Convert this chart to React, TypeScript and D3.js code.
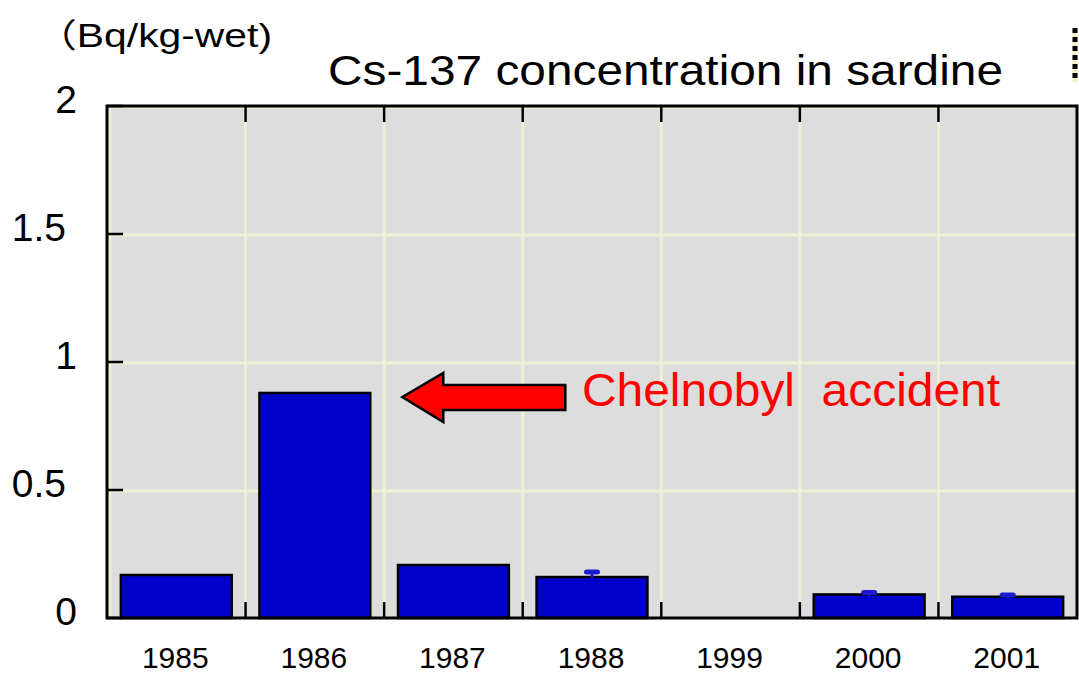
import React, { useEffect, useRef } from "react";
import * as d3 from "d3";

const years = ["1985", "1986", "1987", "1988", "1999", "2000", "2001"];
const values = [0.168, 0.879, 0.207, 0.16, 0, 0.092, 0.083];
const errTops = [null, null, null, 0.18, null, 0.1, 0.09];
const yTicks = [0, 0.5, 1, 1.5, 2];

const W = 1079;
const H = 673;
const margin = { left: 107, top: 106, right: 2, bottom: 55 };

export default function App() {
  const ref = useRef<SVGSVGElement>(null);

  useEffect(() => {
    const svg = d3.select(ref.current);
    svg.selectAll("*").remove();

    const x = d3.scaleBand()
      .domain(years)
      .range([margin.left, W - margin.right])
      .paddingInner(0.2)
      .paddingOuter(0.1);
    const y = d3.scaleLinear()
      .domain([0, 2])
      .range([H - margin.bottom, margin.top]);

    const x0 = margin.left, x1 = W - margin.right;
    const y0 = y(0), y1 = y(2);
    const step = x.step();
    const font = "'Liberation Sans', Arial, 'Noto Sans CJK JP', sans-serif";

    // plot background
    svg.append("rect")
      .attr("x", x0).attr("y", y1)
      .attr("width", x1 - x0).attr("height", y0 - y1)
      .attr("fill", "#dcdddc");

    // grid
    const grid = svg.append("g").attr("stroke", "#efefd6").attr("stroke-width", 3);
    yTicks.filter(d => d > 0).forEach(d => {
      grid.append("line")
        .attr("x1", x0 + 2).attr("x2", x1).attr("y1", y(d) + 1).attr("y2", y(d) + 1);
    });
    d3.range(0, years.length).forEach(i => {
      const gx = x0 + i * step + (i === 0 ? 3 : 0);
      grid.append("line")
        .attr("x1", gx).attr("x2", gx).attr("y1", y1).attr("y2", y0);
    });

    // bars
    svg.append("g")
      .selectAll("rect")
      .data(years.map((yr, i) => ({ yr, v: values[i] })).filter(d => d.v > 0))
      .join("rect")
      .attr("x", d => x(d.yr)!)
      .attr("y", d => y(d.v))
      .attr("width", x.bandwidth())
      .attr("height", d => y0 - y(d.v))
      .attr("fill", "#0000cc")
      .attr("stroke", "#000")
      .attr("stroke-width", 2.5);

    // error bars
    const eb = svg.append("g").attr("stroke", "#1a1ad0").attr("stroke-linecap", "round");
    errTops.forEach((e, i) => {
      if (e == null) return;
      const cx = x(years[i])! + x.bandwidth() / 2;
      eb.append("line")
        .attr("x1", cx).attr("x2", cx).attr("y1", y(e)).attr("y2", y(values[i]))
        .attr("stroke-width", 3);
      eb.append("line")
        .attr("x1", cx - 5.5).attr("x2", cx + 5.5).attr("y1", y(e)).attr("y2", y(e))
        .attr("stroke-width", 5);
    });

    // frame and ticks
    const ax = svg.append("g").attr("stroke", "#000").attr("fill", "none");
    ax.append("rect")
      .attr("x", x0).attr("y", y1)
      .attr("width", x1 - x0).attr("height", y0 - y1)
      .attr("stroke-width", 3);
    yTicks.forEach(d => {
      ax.append("line")
        .attr("x1", x0).attr("x2", x0 + 16).attr("y1", y(d)).attr("y2", y(d))
        .attr("stroke-width", 2.5);
    });
    d3.range(1, years.length).forEach(i => {
      const gx = x0 + i * step;
      ax.append("line").attr("x1", gx).attr("x2", gx).attr("y1", y1).attr("y2", y1 + 16).attr("stroke-width", 2.5);
      ax.append("line").attr("x1", gx).attr("x2", gx).attr("y1", y0).attr("y2", y0 - 16).attr("stroke-width", 2.5);
    });

    // y tick labels
    svg.append("g")
      .selectAll("text")
      .data(yTicks)
      .join("text")
      .attr("x", d => (d % 1 === 0 ? 77 : 66))
      .attr("y", d => y(d) + 7)
      .attr("text-anchor", "end")
      .attr("font-family", font)
      .attr("font-size", 39)
      .attr("fill", "#000")
      .text(d => String(d));

    // x labels
    svg.append("g")
      .selectAll("text")
      .data(years)
      .join("text")
      .attr("x", d => x(d)! + x.bandwidth() / 2 - 1)
      .attr("y", 668)
      .attr("text-anchor", "middle")
      .attr("font-family", font)
      .attr("font-size", 30)
      .attr("fill", "#000")
      .text(d => d);

    // unit + title
    svg.append("text")
      .attr("x", 36).attr("y", 47)
      .attr("font-family", font).attr("font-size", 33)
      .attr("textLength", 236).attr("lengthAdjust", "spacingAndGlyphs")
      .text("（Bq/kg-wet)");
    svg.append("text")
      .attr("x", 328).attr("y", 85)
      .attr("font-family", font).attr("font-size", 43)
      .attr("textLength", 675).attr("lengthAdjust", "spacingAndGlyphs")
      .text("Cs-137 concentration in sardine");

    // annotation arrow pointing to 1986
    const tipX = x("1986")! + x.bandwidth() + 32;
    const tipY = y(values[1]) + 4;
    const arrow = [
      [tipX, tipY],
      [tipX + 41, tipY - 24],
      [tipX + 41, tipY - 12],
      [tipX + 163, tipY - 12],
      [tipX + 163, tipY + 13],
      [tipX + 41, tipY + 13],
      [tipX + 41, tipY + 25],
    ];
    svg.append("path")
      .attr("d", d3.line()(arrow as [number, number][]) + "Z")
      .attr("fill", "#ff0000")
      .attr("stroke", "#000")
      .attr("stroke-width", 2.5)
      .attr("stroke-linejoin", "miter");
    svg.append("text")
      .attr("x", 582).attr("y", 406)
      .attr("font-family", font).attr("font-size", 47)
      .attr("fill", "#ff0000")
      .attr("textLength", 418).attr("lengthAdjust", "spacingAndGlyphs")
      .style("white-space", "pre")
      .text("Chelnobyl  accident");

    // dotted edge at top right
    svg.append("line")
      .attr("x1", 1075).attr("x2", 1075).attr("y1", 28).attr("y2", 82)
      .attr("stroke", "#f3f0c8").attr("stroke-width", 5);
    svg.append("line")
      .attr("x1", 1075).attr("x2", 1075).attr("y1", 28).attr("y2", 82)
      .attr("stroke", "#000").attr("stroke-width", 5).attr("stroke-dasharray", "5,4");
  }, []);

  return (
    <svg
      ref={ref}
      width={W}
      height={H}
      style={{ position: "absolute", left: 0, top: 0, background: "#fff" }}
    />
  );
}
